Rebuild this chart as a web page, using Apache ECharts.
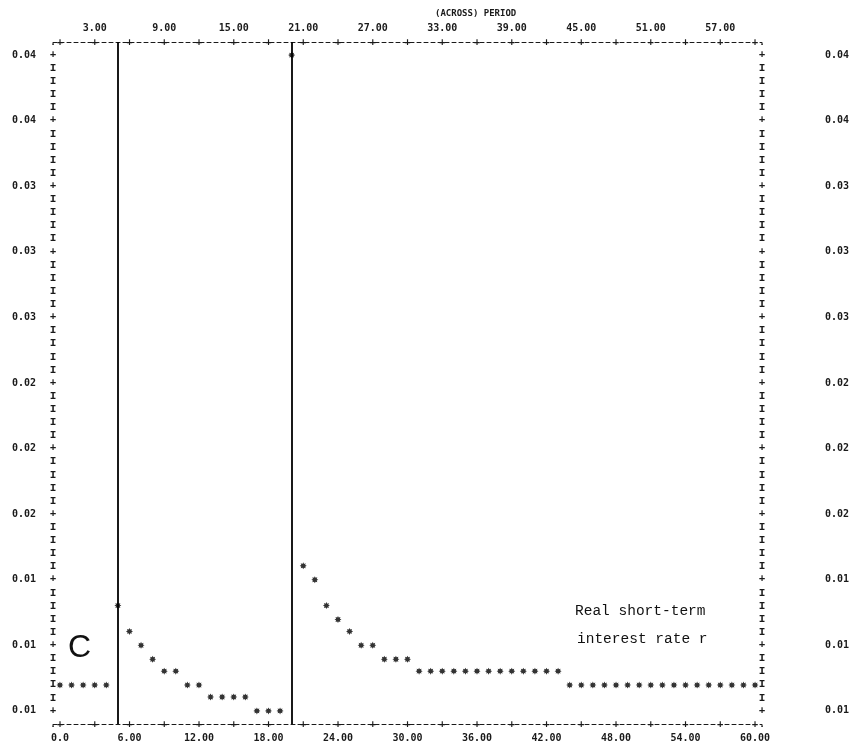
<!DOCTYPE html>
<html>
<head>
<meta charset="utf-8">
<script src="https://cdn.jsdelivr.net/npm/echarts@6/dist/echarts.min.js"></script>
<style>
html,body{margin:0;padding:0;background:#fff;}
#chart{width:858px;height:746px;}
</style>
</head>
<body>
<div id="chart"></div>
<script>
// ---- data ----
const periods = [0,1,2,3,4,5,6,7,8,9,10,11,12,13,14,15,16,17,18,19,20,
  21,22,23,24,25,26,27,28,29,30,31,32,33,34,35,36,37,38,39,40,
  41,42,43,44,45,46,47,48,49,50,51,52,53,54,55,56,57,58,59,60];
const rates = [
  0.0083,0.0083,0.0083,0.0083,0.0083,          // 0-4
  0.0123,0.0110,0.0103,0.0096,0.0090,0.0090,   // 5-10
  0.0083,0.0083,0.0077,0.0077,0.0077,0.0077,   // 11-16
  0.0070,0.0070,0.0070,                        // 17-19
  0.0400,                                      // 20
  0.0143,0.0136,0.0123,0.0116,0.0110,0.0103,0.0103, // 21-27
  0.0096,0.0096,0.0096,                        // 28-30
  0.0090,0.0090,0.0090,0.0090,0.0090,0.0090,0.0090,
  0.0090,0.0090,0.0090,0.0090,0.0090,0.0090,   // 31-43
  0.0083,0.0083,0.0083,0.0083,0.0083,0.0083,0.0083,0.0083,0.0083,
  0.0083,0.0083,0.0083,0.0083,0.0083,0.0083,0.0083,0.0083  // 44-60
];
const shockPeriods = [5, 20];

const xBottomTicks = [0,6,12,18,24,30,36,42,48,54,60];
const xBottomLabels = ['0.0','6.00','12.00','18.00','24.00','30.00','36.00','42.00','48.00','54.00','60.00'];
const xTopTicks = [3,9,15,21,27,33,39,45,51,57];
const xTopLabels = ['3.00','9.00','15.00','21.00','27.00','33.00','39.00','45.00','51.00','57.00'];
const xPlusTicks = [0,3,6,9,12,15,18,21,24,27,30,33,36,39,42,45,48,51,54,57,60];

const yTickValues = [0.0070,0.0103,0.0136,0.0169,0.0202,0.0235,0.0268,0.0301,0.0334,0.0367,0.0400];
const yTickLabels = ['0.01','0.01','0.01','0.02','0.02','0.02','0.03','0.03','0.03','0.04','0.04'];

// printer row geometry (5 print rows per labelled tick)
const rowStep = 0.00066;
const yMin = 0.0070 - rowStep;       // bottom border row
const yMax = 0.0070 + 51 * rowStep;  // top border row
const xMin = -0.6, xMax = 60.6;

// printer-column characters on the side borders ('.', '+', 'I')
const rowValues = [], rowChars = [];
for (let r = -1; r <= 51; r++) {
  rowValues.push(0.0070 + r * rowStep);
  rowChars.push(r === -1 || r === 51 ? '.' : (r % 5 === 0 ? '+' : 'I'));
}
function nearestIdx(arr, v) {
  let b = 0, d = Infinity;
  arr.forEach((a, i) => { const e = Math.abs(a - v); if (e < d) { d = e; b = i; } });
  return b;
}

const MONO = '"DejaVu Sans Mono", "Liberation Mono", monospace';
const INK = '#1a1a1a';
const numLabel = { fontFamily: MONO, fontSize: 10, fontWeight: 'bold', color: INK };

const chart = echarts.init(document.getElementById('chart'), null, { renderer: 'canvas' });
chart.setOption({
  backgroundColor: '#ffffff',
  animation: false,
  grid: { left: 53, right: 96, top: 42, bottom: 22, containLabel: false },
  xAxis: [
    { // bottom numeric labels + dashed border
      type: 'value', position: 'bottom', min: xMin, max: xMax,
      axisLine: { show: true, onZero: false, lineStyle: { color: INK, width: 1, type: [4, 3] } },
      axisTick: { show: false }, splitLine: { show: false },
      axisLabel: Object.assign({ customValues: xBottomTicks, margin: 9,
        formatter: v => xBottomLabels[nearestIdx(xBottomTicks, v)] }, numLabel)
    },
    { // top numeric labels + dashed border
      type: 'value', position: 'top', min: xMin, max: xMax,
      axisLine: { show: true, onZero: false, lineStyle: { color: INK, width: 1, type: [4, 3] } },
      axisTick: { show: false }, splitLine: { show: false },
      axisLabel: Object.assign({ customValues: xTopTicks, margin: 9,
        formatter: v => xTopLabels[nearestIdx(xTopTicks, v)] }, numLabel)
    },
    { // '+' marks on bottom border
      type: 'value', position: 'bottom', min: xMin, max: xMax,
      axisLine: { show: false }, axisTick: { show: false }, splitLine: { show: false },
      axisLabel: { customValues: xPlusTicks, margin: 0, verticalAlign: 'middle',
        formatter: () => '+', fontFamily: MONO, fontSize: 10, fontWeight: 'bold', color: INK }
    },
    { // '+' marks on top border
      type: 'value', position: 'top', min: xMin, max: xMax,
      axisLine: { show: false }, axisTick: { show: false }, splitLine: { show: false },
      axisLabel: { customValues: xPlusTicks, margin: 0, verticalAlign: 'middle',
        formatter: () => '+', fontFamily: MONO, fontSize: 10, fontWeight: 'bold', color: INK }
    }
  ],
  yAxis: [
    {
      type: 'value', position: 'left', min: yMin, max: yMax,
      axisLine: { show: false }, axisTick: { show: false }, splitLine: { show: false },
      axisLabel: Object.assign({ customValues: yTickValues, margin: 17,
        formatter: v => yTickLabels[nearestIdx(yTickValues, v)] }, numLabel)
    },
    {
      type: 'value', position: 'right', min: yMin, max: yMax,
      axisLine: { show: false }, axisTick: { show: false }, splitLine: { show: false },
      axisLabel: Object.assign({ customValues: yTickValues, margin: 63,
        formatter: v => yTickLabels[nearestIdx(yTickValues, v)] }, numLabel)
    },
    { // left border column of I / + characters
      type: 'value', position: 'left', min: yMin, max: yMax,
      axisLine: { show: false }, axisTick: { show: false }, splitLine: { show: false },
      axisLabel: { customValues: rowValues, margin: 0, align: 'center', verticalAlign: 'middle',
        formatter: v => rowChars[nearestIdx(rowValues, v)],
        fontFamily: '"Liberation Mono", monospace', fontSize: 11, fontWeight: 'bold', color: INK }
    },
    { // right border column
      type: 'value', position: 'right', min: yMin, max: yMax,
      axisLine: { show: false }, axisTick: { show: false }, splitLine: { show: false },
      axisLabel: { customValues: rowValues, margin: 0, align: 'center', verticalAlign: 'middle',
        formatter: v => rowChars[nearestIdx(rowValues, v)],
        fontFamily: '"Liberation Mono", monospace', fontSize: 11, fontWeight: 'bold', color: INK }
    }
  ],
  series: [{
    type: 'scatter',
    xAxisIndex: 0, yAxisIndex: 0,
    data: periods.map((p, i) => [p, rates[i]]),
    symbol: 'path://M0,-10 L2.3,-5.5 L7.07,-7.07 L5.5,-2.3 L10,0 L5.5,2.3 L7.07,7.07 L2.3,5.5 L0,10 L-2.3,5.5 L-7.07,7.07 L-5.5,2.3 L-10,0 L-5.5,-2.3 L-7.07,-7.07 L-2.3,-5.5 Z',
    symbolSize: 7,
    itemStyle: { color: '#000' },
    silent: true,
    markLine: {
      silent: true, symbol: ['none', 'none'],
      label: { show: false },
      lineStyle: { color: '#000', width: 1.8, type: 'solid' },
      data: shockPeriods.map(p => ({ xAxis: p }))
    }
  }],
  graphic: [
    { type: 'text', left: 435, top: 9,
      style: { text: '(ACROSS) PERIOD', font: 'bold 9px ' + MONO, fill: INK } },
    { type: 'text', left: 68, top: 632,
      style: { text: 'C', font: '300 32px "Liberation Sans", "DejaVu Sans", sans-serif', fill: '#111' } },
    { type: 'text', left: 575, top: 604,
      style: { text: 'Real short-term', font: '14.5px "Liberation Mono", monospace', fill: '#111' } },
    { type: 'text', left: 577, top: 632,
      style: { text: 'interest rate r', font: '14.5px "Liberation Mono", monospace', fill: '#111' } }
  ]
});
</script>
</body>
</html>
